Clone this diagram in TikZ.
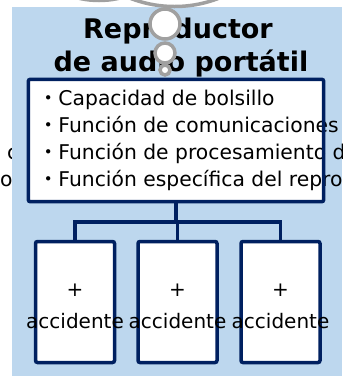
\documentclass[tikz,border=0pt]{standalone}
\usepackage{fontspec}
\setmainfont{DejaVu Sans}
\newfontfamily\cjk{Noto Sans CJK JP}
\usetikzlibrary{positioning}
\definecolor{SlideBg}{HTML}{BDD7EE}
\definecolor{Navy}{HTML}{002060}
\definecolor{Bubble}{HTML}{A0A0A0}
\begin{document}
\begin{tikzpicture}[x=1pt,y=-1pt,
  every node/.style={inner sep=0pt, font=\fontsize{20}{24}\selectfont},
  listtext/.style={anchor=base west, font=\fontsize{20.3}{24}\selectfont},
  frame/.style={draw=Navy, line width=3.5pt, fill=white, rounded corners=2pt},
  link/.style={draw=Navy, line width=3.5pt},
  bubble/.style={draw=Bubble, line width=3.5pt, fill=white}]
  \useasboundingbox (0,0) rectangle (346,376);
  % text ends peeking out on the left
  \node[listtext] (cutc) at (7,159) {c};
  \node[listtext] (cuto) at (0,186) {o};
  \fill[SlideBg] (12,7) rectangle (342,376);
  % title
  \node[anchor=base, font=\fontsize{27}{30}\selectfont\bfseries] (titleA) at (178,38) {Reproductor};
  \node[anchor=base, font=\fontsize{27}{30}\selectfont\bfseries] (titleB) at (181,71) {de audio portátil};
  % feature list
  \node[fill=white, minimum width=295, minimum height=122] (list) at (176,140.5) {};
  \begin{scope}
    \clip (12,7) rectangle (342,376);
    \foreach \i/\txt in {1/Capacidad de bolsillo, 2/Función de comunicaciones,
                         3/Función de procesamiento de datos, 4/Función específica del reproductor}{
      \node[listtext] (item\i) at (38,{105+(\i-1)*27}) {{\cjk ・}\txt};
    }
  \end{scope}
  \draw[Navy, line width=3.5pt, rounded corners=2pt] (list.north west) rectangle (list.south east);
  % accident boxes
  \coordinate (fork) at (list.south |- 0,222);
  \draw[link] (list.south) -- (fork);
  \foreach \i/\x in {1/75, 2/177.5, 3/280.5}{
    \node[frame, minimum width=79, minimum height=121] (acc\i) at (\x,302) {};
    \node (plus\i) at (\x,290) {+};
    \node (lab\i) at (\x,321) {accidente};
    \draw[link] (fork) -| (acc\i.north);
  }
  % thought bubble
  \draw[bubble] (99,-89) circle[radius=89.5pt];
  \draw[bubble] (174.5,-116) circle[radius=122.5pt];
  \draw[bubble] (165,24) circle[radius=15pt];
  \draw[bubble] (165,53) circle[radius=10pt];
  \draw[bubble] (165,70) circle[radius=5pt];
\end{tikzpicture}
\end{document}
